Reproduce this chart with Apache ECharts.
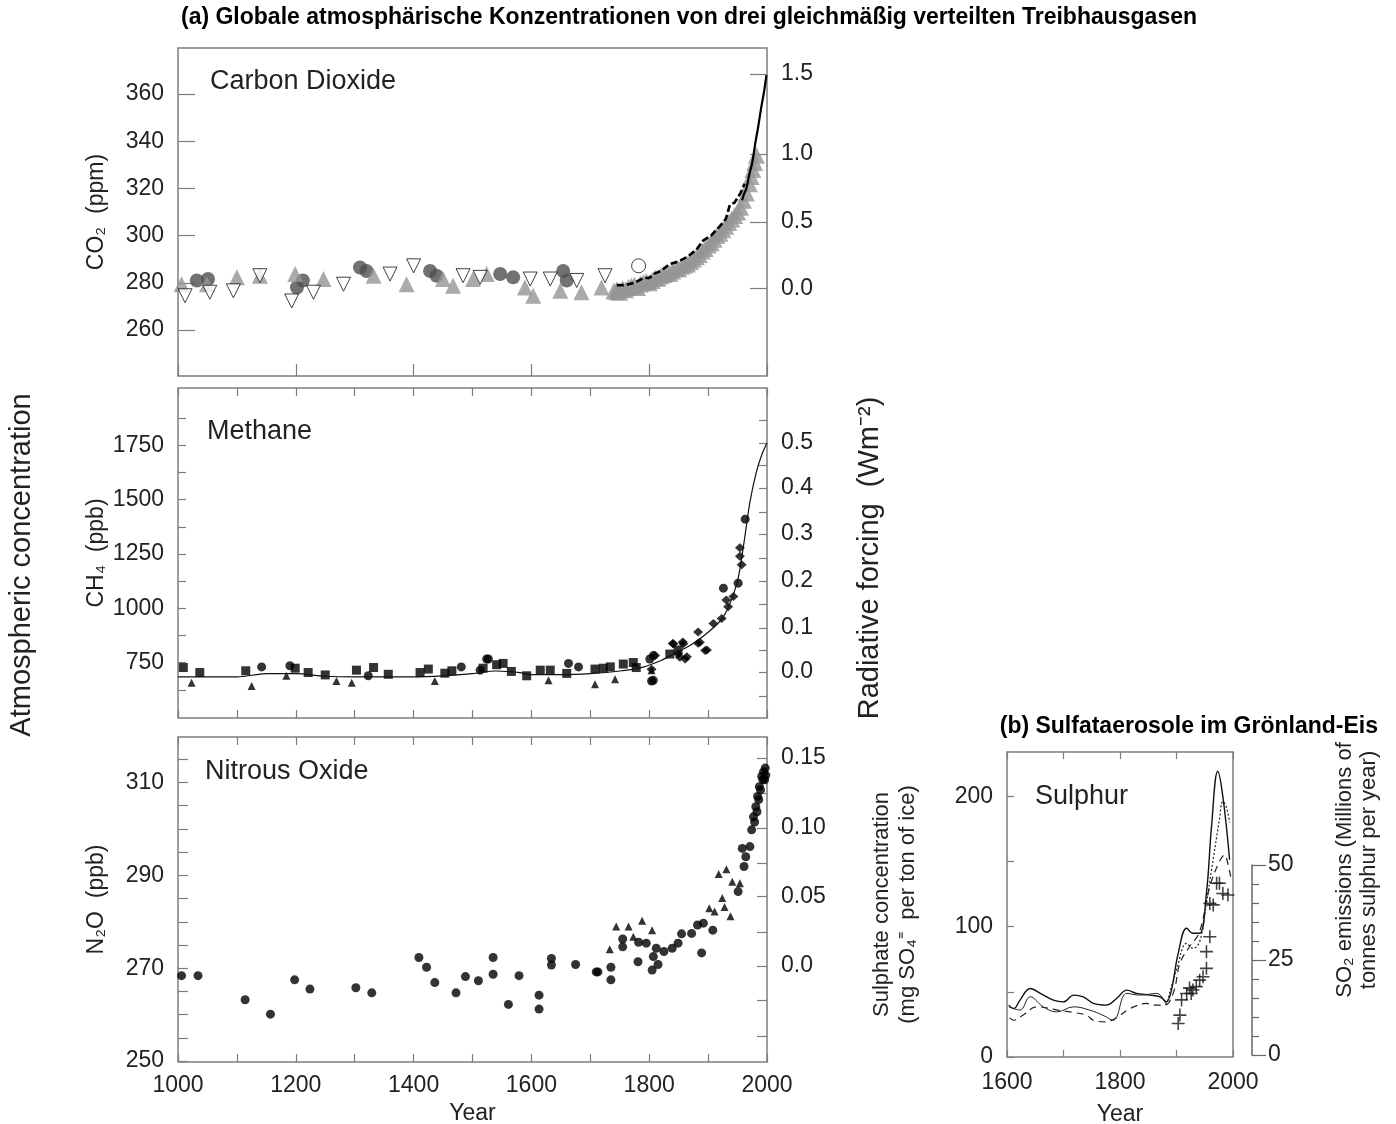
<!DOCTYPE html>
<html><head><meta charset="utf-8">
<script src="https://cdn.jsdelivr.net/npm/echarts@6/dist/echarts.min.js"></script>
<style>html,body{margin:0;padding:0;background:#fff}#c{width:1396px;height:1124px}</style>
</head><body><div id="c"></div>
<script>
// ---------------- DATA ----------------
// CO2 (ppm) – ice cores and atmosphere
const co2Circles = [[1032,281],[1051,281.6],[1212,281],[1202,278],[1309,286.5],[1320,285],[1428,285],[1439,283],[1547,283.7],[1569,282.3],[1654,285],[1660,281]];
const co2Triangles = [[1006,279.4],[1049,279.4],[1100,282.3],[1139,283],[1199,283.7],[1247,281.6],[1332,283],[1388,279.4],[1450,281.6],[1467,278.7],[1501,281.6],[1524,283.7],[1589,278],[1603,274.5],[1649,276.6],[1685,276],[1719,278],[1745,276]];
const co2InvTriangles = [[1012,274.5],[1054,276],[1094,276.6],[1139,283],[1193,272.3],[1230,276],[1281,279.4],[1360,283.7],[1400,287.2],[1484,283],[1513,282.3],[1598,281.6],[1632,281.6],[1677,281],[1725,283]];
const co2OpenCircles = [[1782,287.2]];
const co2Band = [[1740,276.5],[1745,277],[1750,276],[1755,277.5],[1760,277],[1765,278],[1770,278.5],[1775,279],[1780,278],[1785,279.5],[1790,280],[1795,280.5],[1800,280],[1805,281],[1810,282],[1815,282],[1820,283],[1825,283.5],[1830,284],[1835,284],[1840,285],[1845,286],[1850,286],[1855,287],[1860,287.5],[1865,288],[1870,289],[1875,290],[1880,291],[1885,292],[1890,293.5],[1895,294.5],[1900,296],[1905,297],[1910,298.5],[1915,300],[1920,301],[1925,302.5],[1930,304],[1935,305.5],[1940,307],[1945,308.5],[1950,310],[1955,312],[1960,315],[1965,318],[1970,322],[1973,325],[1976,328],[1979,331],[1982,334]];
const co2Dashed = [[1745,279],[1760,279],[1775,280],[1790,282],[1800,282],[1810,284],[1820,285],[1835,288],[1850,289],[1865,291],[1880,294],[1892,298],[1905,300],[1920,304],[1930,307],[1937,313],[1945,314],[1955,318],[1962,322]];
const co2MaunaLoa = [[1958,315],[1960,317],[1965,320],[1970,326],[1975,331],[1980,339],[1985,346],[1990,354],[1995,361],[1999,368]];
const co2LeftTicks = [260,280,300,320,340,360];
const co2ForcingAt = [277.6,305.7,334.6,368.5];
const co2ForcingLabels = ['0.0','0.5','1.0','1.5'];

// CH4 (ppb)
const ch4Line = [[1000,685],[1100,685],[1150,700],[1200,700],[1250,688],[1300,685],[1400,685],[1450,690],[1500,700],[1540,712],[1580,705],[1600,695],[1650,695],[1700,700],[1750,712],[1790,730],[1820,760],[1841,790],[1870,830],[1897,883],[1926,961],[1949,1116],[1960,1286],[1971,1488],[1982,1627],[1991,1705],[2000,1760]];
const ch4Squares = [[1009,728],[1037,705],[1115,713],[1199,725],[1221,705],[1250,694],[1303,716],[1332,728],[1357,697],[1411,705],[1425,721],[1453,702],[1465,713],[1518,725],[1541,741],[1552,747],[1566,710],[1592,690],[1615,716],[1632,716],[1660,701],[1708,721],[1722,725],[1734,731],[1756,744],[1773,751],[1778,728],[1835,790],[1849,809]];
const ch4Circles = [[1142,731],[1190,736],[1323,690],[1481,731],[1513,716],[1524,767],[1527,767],[1663,747],[1680,731],[1801,767],[1807,783],[1804,666],[1807,669],[1926,1093],[1951,1116],[1963,1410]];
const ch4Triangles = [[1023,658],[1125,643],[1184,690],[1269,666],[1295,658],[1436,666],[1629,669],[1708,651],[1742,674],[1804,716]];
const ch4Stars = [[1804,720],[1810,783],[1840,838],[1857,845],[1883,840],[1852,775],[1864,778],[1898,809],[1841,837],[1858,837],[1849,790],[1861,767],[1883,891],[1886,844],[1895,806],[1909,930],[1923,953],[1931,1038],[1943,1054],[1934,1007],[1954,1279],[1954,1240],[1957,1201]];
const ch4LeftTicks = [625,750,875,1000,1125,1250,1375,1500,1625,1750,1875];
const ch4LeftLabels = [750,1000,1250,1500,1750];
const ch4ForcingTickAt = [597,708,809,910,1020,1126,1232,1342,1443,1553,1659,1760,1866];
const ch4ForcingAt = [708,910,1126,1342,1553,1760];
const ch4ForcingLabels = ['0.0','0.1','0.2','0.3','0.4','0.5'];

// N2O (ppb)
const n2oCircles = [[1006,268.4],[1034,268.4],[1114,263.2],[1157,260.1],[1198,267.5],[1224,265.5],[1302,265.8],[1329,264.7],[1409,272.3],[1422,270.2],[1436,266.9],[1472,264.7],[1488,268.2],[1510,267.3],[1535,272.3],[1535,268.7],[1561,262.2],[1579,268.4],[1613,264.2],[1613,261.2],[1634,272.1],[1634,270.7],[1675,270.8],[1710,269.2],[1713,269.2],[1735,270.2],[1735,267.5],[1781,271.4],[1805,269.6],[1807,272.5],[1815,270.8],[1889,273.3],
  [1755,276.3],[1755,274.6],[1782,275.6],[1795,275.4],[1812,274.3],[1825,273.6],[1839,274.3],[1849,275.4],[1855,277.4],[1872,277.5],[1882,279.3],[1892,279.7],[1908,278.2],[1951,286.5],[1961,291.9],[1958,295.8],[1964,294.0],[1971,296.2]];
const n2oTriangles = [[1733,274.1],[1744,279.0],[1765,279.0],[1773,276.8],[1788,280.2],[1805,278.2],[1902,282.9],[1911,282.2],[1924,285.1],[1928,283.2],[1938,281.2],[1918,290.3],[1931,291.3],[1941,288.6],[1954,288.3]];
const n2oRecent = [[1974,299.8],[1977,302.6],[1979,301.5],[1981,304.8],[1983,303.7],[1984,307.0],[1986,306.3],[1987,309.1],[1989,308.4],[1991,311.3],[1993,310.6],[1994,312.3],[1996,310.6],[1997,313.1],[1998,311.6]];
const n2oLeftTicks = [250,255,260,265,270,275,280,285,290,295,300,305,310,315];
const n2oLeftLabels = [250,270,290,310];
const n2oForcingTickAt = [255.4,263.0,270.5,277.7,285.4,292.7,300.2,307.7,315.3];
const n2oForcingAt = [270.5,285.4,300.2,315.3];
const n2oForcingLabels = ['0.0','0.05','0.10','0.15'];

// Sulphur (mg SO4 per ton of ice) and SO2 emissions
const sulSolid = [[1603,39.8],[1612,37.2],[1623,43.6],[1641,52.6],[1659,48.8],[1682,43.6],[1700,42.3],[1718,47.5],[1735,46.2],[1753,41.1],[1776,39.8],[1794,44.9],[1812,51.3],[1829,48.8],[1853,47.5],[1871,46.2],[1882,42.3],[1891,51.3],[1903,79.5],[1918,98.8],[1929,94.9],[1941,94.9],[1953,125.7],[1962,176.9],[1973,219.2],[1982,200],[1994,151.3]];
const sulThin = [[1603,38.5],[1623,36],[1641,46.2],[1664,38.5],[1688,34.6],[1718,38.5],[1747,35.9],[1770,32],[1788,28.2],[1812,48.8],[1835,47.5],[1865,48.8],[1882,39.8]];
const sulDotted = [[1882,39.8],[1900,66.7],[1918,87.2],[1929,83.3],[1941,88.5],[1953,118],[1962,143.6],[1976,182],[1982,196],[1988,192],[1994,180]];
const sulDashed = [[1605,30],[1612,28.2],[1628,32],[1653,38.5],[1690,36],[1720,34],[1741,32],[1753,28.2],[1775,27],[1800,32],[1818,37.2],[1847,41.1],[1859,39.8],[1880,40],[1895,50],[1906,71.8],[1923,84.6],[1940,95],[1959,130.8],[1976,150],[1985,155],[1990,150],[1996,138]];
const so2Emissions = [[1903,8.3],[1906,10.5],[1909,14.5],[1918,16.2],[1923,17.6],[1929,17.1],[1935,18],[1926,16.2],[1941,19.7],[1947,20.6],[1953,22.8],[1953,27.2],[1959,31.1],[1959,39.9],[1965,39.5],[1971,45.2],[1976,45.2],[1982,42.5],[1991,42.1]];
const sulLeftTicks = [0,50,100,150,200];
const sulLeftLabels = [0,100,200];

// ---------------- CHART ----------------
const FONT = '"Liberation Sans", Arial, Helvetica, sans-serif';
const TXT = '#222';
const BORDER = '#7d7d7d';
const plain = v => String(v);
const chart = echarts.init(document.getElementById('c'), null, {renderer:'canvas'});

function pick(at, labels){
  return function(v){
    let best=-1, d=1e9;
    at.forEach((a,i)=>{ const dd=Math.abs(a-v); if(dd<d){d=dd;best=i;} });
    return d<0.5 ? labels[best] : '';
  };
}
function gridBox(o){ return Object.assign({show:true, borderColor:BORDER, borderWidth:1.5, backgroundColor:'rgba(0,0,0,0)', outerBoundsMode:'none', containLabel:false}, o); }
function xAx(grid, opt){
  return Object.assign({type:'value', gridIndex:grid, min:1000, max:2000, interval:200,
    axisLine:{show:false}, splitLine:{show:false},
    axisTick:{show:true, inside:true, length:8, lineStyle:{color:BORDER, width:1.2}},
    minorTick:{show:true, splitNumber:2, length:8, lineStyle:{color:BORDER, width:1.2}},
    axisLabel:{show:false}}, opt);
}
function yAx(grid, pos, min, max, ticks, labelAt, fmt, tickLen, opt){
  return Object.assign({type:'value', gridIndex:grid, position:pos, min:min, max:max,
    axisLine:{show:false}, splitLine:{show:false},
    axisTick:{show:true, inside:true, length:tickLen, customValues:ticks, lineStyle:{color:BORDER, width:1.2}},
    axisLabel:{show:true, customValues:labelAt, formatter:fmt || plain, color:TXT, fontSize:23, fontFamily:FONT, margin:14,
      showMinLabel:true, showMaxLabel:true}}, opt);
}
const nameStyle = {color:TXT, fontSize:23, fontFamily:FONT};
const xLabel = {show:true, formatter:plain, color:TXT, fontSize:23, fontFamily:FONT, margin:12, showMinLabel:true, showMaxLabel:true};

const option = {
  animation:false,
  backgroundColor:'#fff',
  grid:[
    gridBox({left:178, top:48, width:589, height:328}),
    gridBox({left:178, top:388, width:589, height:330}),
    gridBox({left:178, top:737, width:589, height:325}),
    gridBox({left:1007, top:752, width:226, height:305}),
    {show:false, left:1007, top:865, width:226, height:190, outerBoundsMode:'none', containLabel:false}
  ],
  xAxis:[
    xAx(0, {axisTick:{show:true, inside:true, length:12, lineStyle:{color:BORDER, width:1.2}}, minorTick:{show:false}}),
    xAx(1, {}),
    xAx(1, {position:'top'}),
    xAx(2, {axisLabel:xLabel, name:'Year', nameLocation:'middle', nameGap:40, nameTextStyle:nameStyle}),
    xAx(2, {position:'top'}),
    xAx(3, {min:1600, max:2000, interval:200, axisTick:{show:true, inside:true, length:7, lineStyle:{color:BORDER, width:1.2}},
      minorTick:{show:true, splitNumber:2, length:7, lineStyle:{color:BORDER, width:1.2}},
      axisLabel:Object.assign({}, xLabel, {margin:14}),
      name:'Year', nameLocation:'middle', nameGap:46, nameTextStyle:nameStyle}),
    xAx(3, {min:1600, max:2000, interval:200, position:'top', axisTick:{show:true, inside:true, length:7, lineStyle:{color:BORDER, width:1.2}},
      minorTick:{show:true, splitNumber:2, length:7, lineStyle:{color:BORDER, width:1.2}}}),
    {type:'value', gridIndex:4, min:1600, max:2000, show:false}
  ],
  yAxis:[
    yAx(0,'left',240.5,379.5,co2LeftTicks,co2LeftTicks,null,17,
      {name:'CO₂  (ppm)', nameLocation:'middle', nameGap:70, nameRotate:90, nameTextStyle:nameStyle}),
    yAx(0,'right',240.5,379.5,co2ForcingAt,co2ForcingAt,pick(co2ForcingAt,co2ForcingLabels),17),
    yAx(1,'left',496,2013,ch4LeftTicks,ch4LeftLabels,null,8,
      {name:'CH₄  (ppb)', nameLocation:'middle', nameGap:70, nameRotate:90, nameTextStyle:nameStyle}),
    yAx(1,'right',496,2013,ch4ForcingTickAt,ch4ForcingAt,pick(ch4ForcingAt,ch4ForcingLabels),8),
    yAx(2,'left',249.8,319.8,n2oLeftTicks,n2oLeftLabels,null,10,
      {name:'N₂O  (ppb)', nameLocation:'middle', nameGap:70, nameRotate:90, nameTextStyle:nameStyle}),
    yAx(2,'right',249.8,319.8,n2oForcingTickAt,n2oForcingAt,pick(n2oForcingAt,n2oForcingLabels),10),
    yAx(3,'left',0,234,sulLeftTicks,sulLeftLabels,null,7,
      {name:'Sulphate concentration\n(mg SO₄⁼  per ton of ice)', nameLocation:'middle', nameGap:86, nameRotate:90,
       nameTextStyle:{color:TXT, fontSize:22, fontFamily:FONT, lineHeight:26}}),
    {type:'value', gridIndex:4, position:'right', offset:19, min:0, max:50, interval:25,
      axisLine:{show:true, lineStyle:{color:'#666', width:1.5}}, splitLine:{show:false},
      axisTick:{show:true, inside:false, length:14, lineStyle:{color:'#666', width:1.2}},
      minorTick:{show:true, splitNumber:5, length:7, lineStyle:{color:'#666', width:1.2}},
      axisLabel:{show:true, formatter:plain, color:TXT, fontSize:23, fontFamily:FONT, margin:16, showMinLabel:true, showMaxLabel:true}}
  ],
  graphic:[
    {type:'text', x:689, y:18, style:{text:'(a) Globale atmosphärische Konzentrationen von drei gleichmäßig verteilten Treibhausgasen', font:'bold 23px '+FONT, fill:'#000', textAlign:'center', textVerticalAlign:'middle', align:'center', verticalAlign:'middle'}},
    {type:'text', x:1378, y:727, style:{text:'(b) Sulfataerosole im Grönland-Eis', font:'bold 23px '+FONT, fill:'#000', textAlign:'right', textVerticalAlign:'middle', align:'right', verticalAlign:'middle'}},
    {type:'text', x:210, y:82, style:{text:'Carbon Dioxide', font:'27px '+FONT, fill:TXT, textAlign:'left', textVerticalAlign:'middle', align:'left', verticalAlign:'middle'}},
    {type:'text', x:207, y:432, style:{text:'Methane', font:'27px '+FONT, fill:TXT, textAlign:'left', textVerticalAlign:'middle', align:'left', verticalAlign:'middle'}},
    {type:'text', x:205, y:772, style:{text:'Nitrous Oxide', font:'27px '+FONT, fill:TXT, textAlign:'left', textVerticalAlign:'middle', align:'left', verticalAlign:'middle'}},
    {type:'text', x:1035, y:797, style:{text:'Sulphur', font:'27px '+FONT, fill:TXT, textAlign:'left', textVerticalAlign:'middle', align:'left', verticalAlign:'middle'}},
    {type:'text', x:22, y:565, rotation:Math.PI/2, style:{text:'Atmospheric concentration', font:'29px '+FONT, fill:TXT, textAlign:'center', textVerticalAlign:'middle', align:'center', verticalAlign:'middle'}},
    {type:'text', x:870, y:558, rotation:Math.PI/2, style:{text:'Radiative forcing  (Wm⁻²)', font:'29px '+FONT, fill:TXT, textAlign:'center', textVerticalAlign:'middle', align:'center', verticalAlign:'middle'}},
    {type:'text', x:1357, y:870, rotation:Math.PI/2, style:{text:'SO₂ emissions (Millions of\ntonnes sulphur per year)', font:'22px '+FONT, lineHeight:24, fill:TXT, textAlign:'center', textVerticalAlign:'middle', align:'center', verticalAlign:'middle'}}
  ],
  series:[
    // CO2
    {type:'scatter', xAxisIndex:0, yAxisIndex:0, data:co2Circles, symbol:'circle', symbolSize:14, itemStyle:{color:'#4f4f4f'}},
    {type:'scatter', xAxisIndex:0, yAxisIndex:0, data:co2Triangles, symbol:'triangle', symbolSize:16, itemStyle:{color:'#959595'}},
    {type:'scatter', xAxisIndex:0, yAxisIndex:0, data:co2InvTriangles, symbol:'triangle', symbolRotate:180, symbolSize:14, itemStyle:{color:'#fff', borderColor:'#111', borderWidth:1}},
    {type:'scatter', xAxisIndex:0, yAxisIndex:0, data:co2OpenCircles, symbol:'circle', symbolSize:14, itemStyle:{color:'#fff', borderColor:'#111', borderWidth:1}},
    {type:'scatter', xAxisIndex:0, yAxisIndex:0, data:co2Band, symbol:'triangle', symbolSize:17, itemStyle:{color:'#959595'}},
    {type:'line', xAxisIndex:0, yAxisIndex:0, data:co2Dashed, showSymbol:false, symbol:'none', lineStyle:{color:'#000', width:2.6, type:[7,3]}},
    {type:'line', xAxisIndex:0, yAxisIndex:0, data:co2MaunaLoa, showSymbol:false, symbol:'none', smooth:0.3, lineStyle:{color:'#000', width:2.2}},
    // CH4
    {type:'line', xAxisIndex:1, yAxisIndex:2, data:ch4Line, showSymbol:false, symbol:'none', smooth:0.3, lineStyle:{color:'#111', width:1.2}},
    {type:'scatter', xAxisIndex:1, yAxisIndex:2, data:ch4Squares, symbol:'rect', symbolSize:9, itemStyle:{color:'#000'}},
    {type:'scatter', xAxisIndex:1, yAxisIndex:2, data:ch4Circles, symbol:'circle', symbolSize:9, itemStyle:{color:'#000'}},
    {type:'scatter', xAxisIndex:1, yAxisIndex:2, data:ch4Triangles, symbol:'triangle', symbolSize:8, itemStyle:{color:'#000'}},
    {type:'scatter', xAxisIndex:1, yAxisIndex:2, data:ch4Stars, symbol:'diamond', symbolSize:[10,9], itemStyle:{color:'#000'}},
    // N2O
    {type:'scatter', xAxisIndex:3, yAxisIndex:4, data:n2oCircles, symbol:'circle', symbolSize:9, itemStyle:{color:'#000'}},
    {type:'scatter', xAxisIndex:3, yAxisIndex:4, data:n2oTriangles, symbol:'triangle', symbolSize:8, itemStyle:{color:'#000'}},
    {type:'scatter', xAxisIndex:3, yAxisIndex:4, data:n2oRecent, symbol:'circle', symbolSize:9, itemStyle:{color:'#000'}},
    // Sulphur
    {type:'line', xAxisIndex:5, yAxisIndex:6, data:sulSolid, showSymbol:false, symbol:'none', smooth:0.4, lineStyle:{color:'#111', width:1.4}},
    {type:'line', xAxisIndex:5, yAxisIndex:6, data:sulThin, showSymbol:false, symbol:'none', smooth:0.4, lineStyle:{color:'#222', width:1}},
    {type:'line', xAxisIndex:5, yAxisIndex:6, data:sulDotted, showSymbol:false, symbol:'none', smooth:0.4, lineStyle:{color:'#222', width:1.2, type:[2,2]}},
    {type:'line', xAxisIndex:5, yAxisIndex:6, data:sulDashed, showSymbol:false, symbol:'none', smooth:0.4, lineStyle:{color:'#222', width:1.2, type:[7,5]}},
    {type:'scatter', xAxisIndex:7, yAxisIndex:7, data:so2Emissions, symbol:'path://M4.4,0 L5.6,0 L5.6,4.4 L10,4.4 L10,5.6 L5.6,5.6 L5.6,10 L4.4,10 L4.4,5.6 L0,5.6 L0,4.4 L4.4,4.4 Z', symbolSize:13, itemStyle:{color:'#111'}}
  ]
};
chart.setOption(option);
</script>
</body></html>
